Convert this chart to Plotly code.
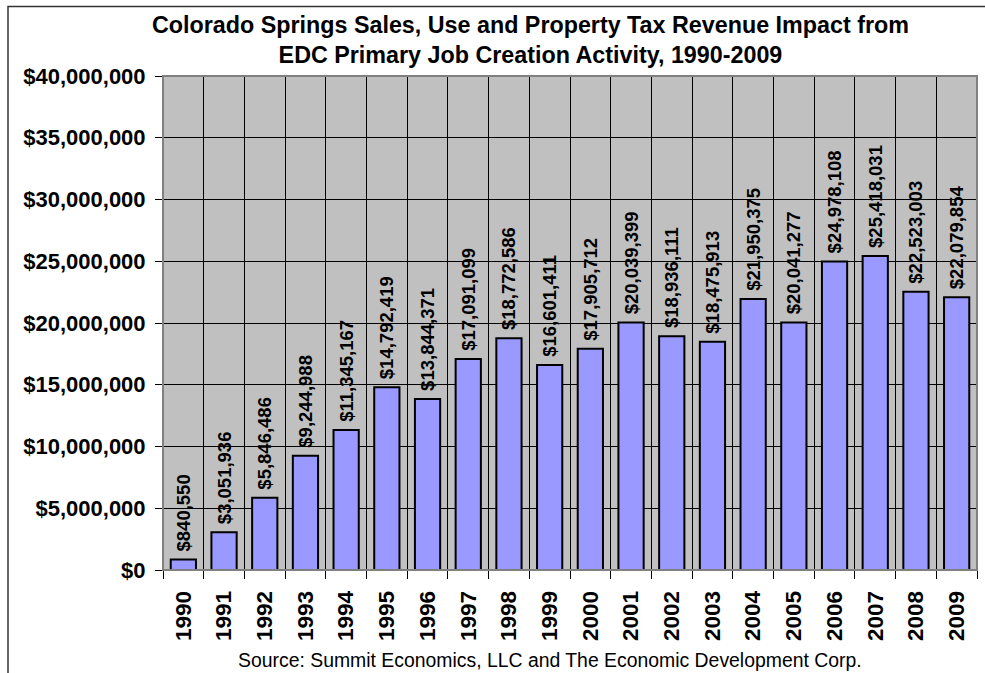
import plotly.graph_objects as go

years = [str(y) for y in range(1990, 2010)]
revenue = [840550, 3051936, 5846486, 9244988, 11345167, 14792419, 13844371,
           17091099, 18772586, 16601411, 17905712, 20039399, 18936111, 18475913,
           21950375, 20041277, 24978108, 25418031, 22523003, 22079854]

title_text = ("Colorado Springs Sales, Use and Property Tax Revenue Impact from<br>"
              "EDC Primary Job Creation Activity, 1990-2009")
source_text = "Source: Summit Economics, LLC and The Economic Development Corp."

FONT = "Liberation Sans, Arial, sans-serif"

fig = go.Figure()
fig.add_trace(go.Bar(
    x=years, y=revenue,
    marker=dict(color="#9999FF", line=dict(color="black", width=2)),
    texttemplate="<b>\u00a0$%{y:,}</b>",
    textposition="outside",
    textangle=-90,
    constraintext="none",
    textfont=dict(family=FONT, size=18.5, color="black"),
    cliponaxis=False,
    hoverinfo="skip",
))

fig.update_layout(
    width=985, height=673,
    margin=dict(l=163, r=8, t=76, b=103),
    paper_bgcolor="white",
    plot_bgcolor="#C0C0C0",
    bargap=0.38,
    showlegend=False,
    font=dict(family=FONT, color="black"),
)

fig.update_xaxes(
    type="category",
    tickson="boundaries",
    ticks="outside", ticklen=8, tickcolor="black", tickwidth=1,
    showgrid=True, gridcolor="black", gridwidth=1,
    showline=True, linecolor="black", linewidth=1,
    tickangle=-90,
    ticklabelstandoff=11,
    tickfont=dict(family=FONT, size=22.5, color="black", weight="bold"),
)
fig.update_yaxes(
    range=[0, 40000000], dtick=5000000,
    tickprefix="$", tickformat=",",
    ticks="outside", ticklen=7, tickcolor="black", tickwidth=1,
    showgrid=True, gridcolor="black", gridwidth=1,
    showline=True, linecolor="black", linewidth=1,
    zeroline=False,
    ticklabelstandoff=5,
    tickfont=dict(family=FONT, size=22, color="black", weight="bold"),
)

# plot area border (gray) and outer chart border
fig.add_shape(type="rect", xref="paper", yref="paper", x0=0, x1=1, y0=0, y1=1,
              line=dict(color="#808080", width=2), layer="above")
fig.add_shape(type="rect", xref="paper", yref="paper",
              x0=(8 - 163) / 814, x1=(1000 - 163) / 814,
              y0=(570 - 700) / 494, y1=(570 - 6.5) / 494,
              line=dict(color="#333333", width=1.5), layer="above")

fig.add_annotation(text=title_text, xref="paper", yref="paper",
                   x=(530.5 - 163) / 814, y=(570 - 40) / 494,
                   xanchor="center", yanchor="middle", showarrow=False,
                   font=dict(family=FONT, size=23.3, color="black", weight="bold"))
fig.add_annotation(text=source_text, xref="paper", yref="paper",
                   x=(550 - 163) / 814, y=(570 - 660) / 494,
                   xanchor="center", yanchor="middle", showarrow=False,
                   font=dict(family=FONT, size=19.4, color="black"))

fig.write_html("out.html", config={"displayModeBar": False},
               post_script="document.body.style.margin='0';")
